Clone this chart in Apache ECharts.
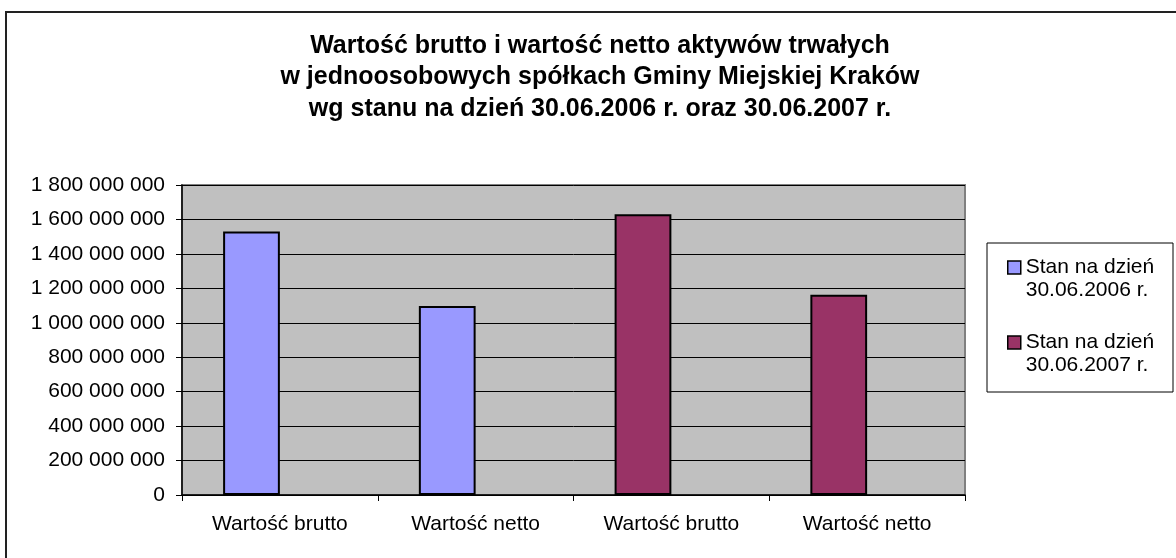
<!DOCTYPE html>
<html>
<head>
<meta charset="utf-8">
<script src="https://cdn.jsdelivr.net/npm/echarts@6/dist/echarts.min.js"></script>
<style>
  html, body { margin: 0; padding: 0; background: #fff; }
  #chart { width: 1176px; height: 558px; }
</style>
</head>
<body>
<div id="chart"></div>
<script>
// dane
var categories = ['Wartość brutto', 'Wartość netto', 'Wartość brutto', 'Wartość netto'];
var stan2006 = [1530000000, 1098000000, '-', '-'];
var stan2007 = ['-', '-', 1630000000, 1163000000];
var pusty = ['-', '-', '-', '-']; // pusta seria - zajmuje drugie miejsce w grupie jak w Excelu
var nazwy = ['Stan na dzień\n30.06.2006 r.', 'Stan na dzień\n30.06.2007 r.'];

var font = 'Arial, "Liberation Sans", sans-serif';

function formatLiczba(v) {
    return String(v).replace(/\B(?=(\d{3})+(?!\d))/g, ' ');
}

var opcje = {
    animation: false,
    backgroundColor: '#fff',
    title: {
        text: 'Wartość brutto i wartość netto aktywów trwałych\nw jednoosobowych spółkach Gminy Miejskiej Kraków\nwg stanu na dzień 30.06.2006 r. oraz 30.06.2007 r.',
        left: 595,
        top: 25,
        textAlign: 'center',
        textStyle: {
            fontFamily: font,
            fontSize: 25,
            fontWeight: 'bold',
            lineHeight: 31.5,
            color: '#000'
        }
    },
    legend: {
        data: nazwy,
        orient: 'vertical',
        left: 1002,
        top: 228,
        itemWidth: 13,
        itemHeight: 13,
        itemGap: 6,
        icon: 'rect',
        selectedMode: false,
        itemStyle: { borderColor: '#000', borderWidth: 1.5 },
        // pusta pierwsza linia - ikona wyrównana do pierwszego wiersza tekstu
        formatter: function (name) { return '\n' + name; },
        textStyle: {
            fontFamily: font,
            fontSize: 21,
            lineHeight: 23,
            color: '#000'
        }
    },
    grid: {
        left: 182,
        top: 185,
        width: 783,
        height: 310,
        show: true,
        backgroundColor: '#c0c0c0',
        borderColor: '#808080',
        borderWidth: 2
    },
    xAxis: {
        type: 'category',
        data: categories,
        axisLine: { lineStyle: { color: '#000', width: 1.5 } },
        axisTick: { show: true, length: 6, lineStyle: { color: '#000' } },
        axisLabel: {
            fontFamily: font,
            fontSize: 21,
            color: '#000',
            margin: 19
        }
    },
    yAxis: {
        type: 'value',
        min: 0,
        max: 1800000000,
        interval: 200000000,
        axisLine: { show: true, lineStyle: { color: '#000', width: 1.5 } },
        axisTick: { show: true, length: 6, lineStyle: { color: '#000' } },
        axisLabel: {
            fontFamily: font,
            fontSize: 21,
            color: '#000',
            margin: 17,
            formatter: formatLiczba
        },
        splitLine: { lineStyle: { color: '#000', width: 1 } }
    },
    graphic: [
        {
            type: 'rect',
            shape: { x: 6, y: 12, width: 1200, height: 600 },
            style: { fill: 'none', stroke: '#222', lineWidth: 2 },
            silent: true
        },
        {
            type: 'rect',
            shape: { x: 987, y: 243, width: 186, height: 149 },
            style: { fill: '#fff', stroke: '#000', lineWidth: 1 },
            z: -1,
            silent: true
        }
    ],
    series: [
        {
            name: nazwy[0],
            type: 'bar',
            stack: 'a',
            data: stan2006,
            barGap: '0%',
            barCategoryGap: '42%',
            itemStyle: { color: '#9999ff', borderColor: '#000', borderWidth: 2 }
        },
        {
            name: nazwy[1],
            type: 'bar',
            stack: 'a',
            data: stan2007,
            barGap: '0%',
            barCategoryGap: '42%',
            itemStyle: { color: '#993366', borderColor: '#000', borderWidth: 2 }
        },
        {
            type: 'bar',
            stack: 'b',
            data: pusty,
            barGap: '0%',
            barCategoryGap: '42%'
        }
    ]
};

var wykres = echarts.init(document.getElementById('chart'));
wykres.setOption(opcje);
</script>
</body>
</html>
